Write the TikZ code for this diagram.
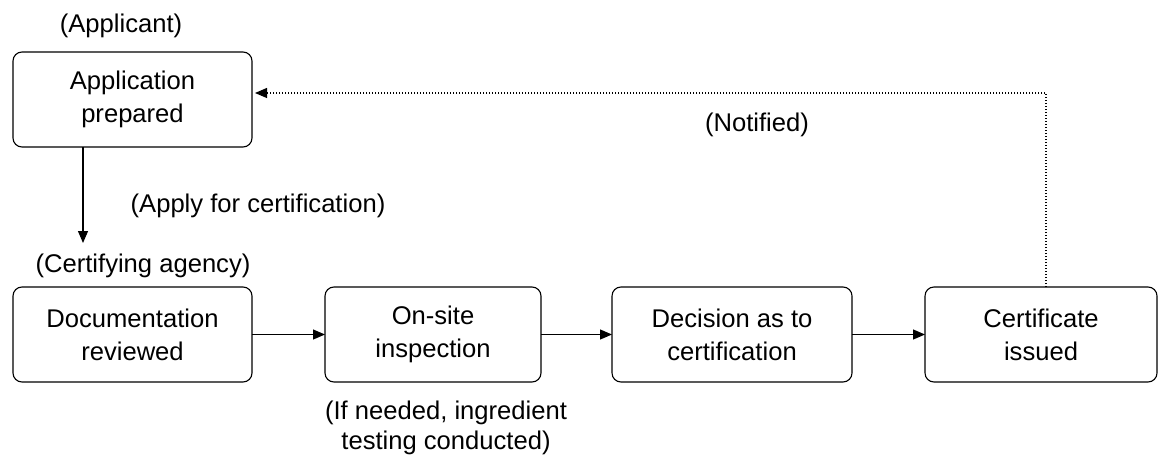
\documentclass[tikz,border=0pt]{standalone}
\usepackage{fontspec}
\setmainfont{Liberation Sans}
\usetikzlibrary{arrows.meta}
\begin{document}
\begin{tikzpicture}[x=0.5pt,y=-0.5pt,
  font=\fontsize{12.8pt}{16.5pt}\selectfont,
  stagebox/.style={draw, line width=0.55pt, rounded corners=4.5pt,
    minimum height=47.5pt, inner sep=0pt, outer sep=0pt, align=center},
  flow/.style={line width=0.55pt, -{Triangle[length=6pt,width=5pt]}},
  notice/.style={line width=0.55pt, dash pattern=on 0.5pt off 1pt,
    -{Triangle[length=6pt,width=5pt]}},
  caption/.style={inner sep=0pt, anchor=base},
  twoline/.style={inner sep=0pt, align=center,
    font=\fontsize{12.8pt}{15pt}\selectfont}]
\useasboundingbox (0,0) rectangle (1159,454);

% process stages
\node[stagebox, minimum width=119.5pt] (prep) at (132.5,99.5) {Application\\prepared};
\node[stagebox, minimum width=119.5pt] (docs) at (132.5,334.5) {Documentation\\reviewed};
\node[stagebox, minimum width=108pt]   (site) at (433,334.5)   {On-site\\inspection};
\node[stagebox, minimum width=120pt]   (dec)  at (732,334.5)   {Decision as to\\certification};
\node[stagebox, minimum width=116pt]   (cert) at (1041,334.5)  {Certificate\\issued};

% captions
\node[caption] (who1)  at (121,33)  {(Applicant)};
\node[caption] (apply) at (258,213) {(Apply for certification)};
\node[caption] (who2)  at (143,272) {(Certifying agency)};
\node[caption] (note)  at (757,132) {(Notified)};
\node[twoline] (test)  at (446,428) {(If needed, ingredient\\testing conducted)};

% connectors
\coordinate (down) at (83,243);
\draw[flow] (prep.south -| down) -- (down);
\draw[flow] (docs.east) -- (site.west);
\draw[flow] (site.east) -- (dec.west);
\draw[flow] (dec.east) -- (cert.west);

\coordinate (turn) at (1046,93);
\draw[notice, shorten >=1.5pt] (cert.north -| turn) -- (turn) -- (prep.east |- turn);
\end{tikzpicture}
\end{document}
